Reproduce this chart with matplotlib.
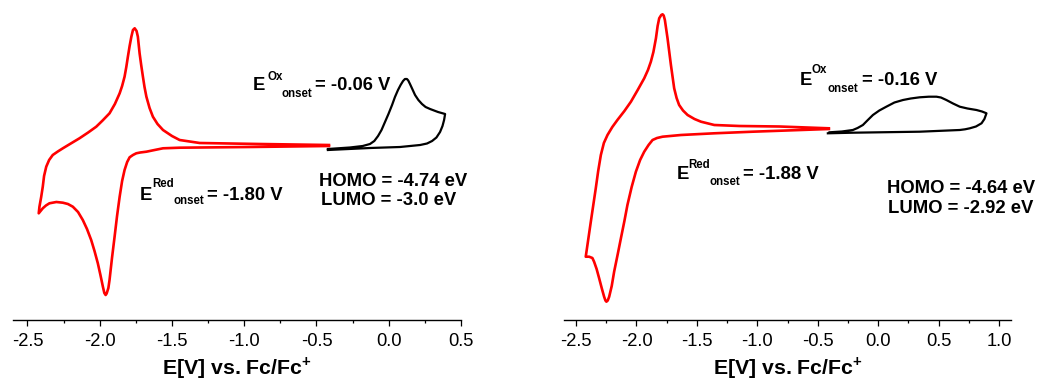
import matplotlib
matplotlib.use("Agg")
import matplotlib.pyplot as plt
from matplotlib.ticker import MultipleLocator

plt.rcParams["font.family"] = ["Liberation Sans", "DejaVu Sans"]
plt.rcParams["mathtext.fontset"] = "custom"
plt.rcParams["mathtext.rm"] = "Liberation Sans"
plt.rcParams["mathtext.bf"] = "Liberation Sans:bold"
plt.rcParams["axes.unicode_minus"] = False

# --- datos (E en V vs Fc/Fc+, corriente en unidades arbitrarias) ---
# panel izquierdo, reduccion (rojo)
red1_E = [-0.414, -0.892, -1.308, -1.447, -1.50, -1.562, -1.60, -1.632, -1.655, -1.677,
          -1.69, -1.701, -1.713, -1.724, -1.736, -1.745, -1.758, -1.770, -1.781, -1.793,
          -1.805, -1.816, -1.828, -1.845, -1.862, -1.895, -1.932, -1.98, -2.024, -2.08,
          -2.140, -2.20, -2.255, -2.29, -2.325, -2.35, -2.370, -2.385, -2.394, -2.405,
          -2.417, -2.422,
          -2.394, -2.372, -2.348, -2.30, -2.255, -2.22, -2.186, -2.15, -2.117, -2.088,
          -2.059, -2.036, -2.013, -1.995, -1.978, -1.968, -1.959, -1.952, -1.94, -1.932,
          -1.915, -1.897, -1.88, -1.862, -1.845, -1.828, -1.81, -1.793, -1.77, -1.747,
          -1.72, -1.677, -1.62, -1.562, -1.447, -0.962, -0.414]
red1_I = [17.5, 17.6, 17.7, 18.0, 18.4, 19.0, 19.6, 20.33, 21.2, 22.33,
          23.3, 24.33, 25.5, 26.67, 28.33, 28.9, 29.17, 29.0, 28.33, 27.4,
          26.33, 25.3, 24.33, 23.4, 22.67, 21.6, 20.67, 19.95, 19.33, 18.75,
          18.17, 17.65, 17.17, 16.85, 16.5, 16.0, 15.33, 14.4, 13.33, 12.3,
          11.33, 10.67,
          11.17, 11.45, 11.67, 11.8, 11.73, 11.6, 11.33, 10.8, 10.0, 9.1,
          8.0, 6.9, 5.67, 4.5, 3.33, 2.7, 2.5, 2.65, 3.2, 4.0,
          6.2, 8.33, 10.4, 12.33, 13.9, 15.0, 15.8, 16.27, 16.5, 16.67,
          16.75, 16.83, 17.0, 17.17, 17.23, 17.3, 17.4]

# panel izquierdo, oxidacion (negro)
ox1_E = [-0.421, -0.130, 0.078, 0.217, 0.265, 0.300, 0.330, 0.355, 0.372, 0.383,
         0.390, 0.341, 0.286, 0.255, 0.230, 0.205, 0.182, 0.163, 0.147, 0.135,
         0.126, 0.112, 0.099, 0.082, 0.064, 0.043, 0.023, -0.002, -0.026, -0.050,
         -0.074, -0.100, -0.130, -0.180, -0.269, -0.421]
ox1_I = [17.0, 17.2, 17.3, 17.5, 17.65, 17.9, 18.25, 18.8, 19.4, 20.0,
         20.6, 20.8, 21.1, 21.3, 21.6, 22.0, 22.5, 23.1, 23.6, 23.95,
         24.1, 24.1, 23.9, 23.5, 23.0, 22.3, 21.5, 20.6, 19.8, 19.0,
         18.4, 17.9, 17.6, 17.4, 17.25, 17.1]

# panel derecho, reduccion (rojo)
red2_E = [-0.408, -0.817, -1.148, -1.356, -1.466, -1.52, -1.577, -1.615, -1.647, -1.668,
          -1.688, -1.715, -1.743, -1.765, -1.775, -1.784, -1.795, -1.812, -1.825, -1.839,
          -1.86, -1.881, -1.905, -1.936, -1.99, -2.046, -2.10, -2.158, -2.20, -2.240,
          -2.27, -2.295, -2.317, -2.337, -2.378, -2.406, -2.420,
          -2.392, -2.365, -2.351, -2.33, -2.309, -2.288, -2.268, -2.257, -2.249, -2.238,
          -2.226, -2.205, -2.185, -2.155, -2.129, -2.10, -2.075, -2.04, -2.005, -1.97,
          -1.936, -1.90, -1.867, -1.83, -1.784, -1.632, -1.356, -1.038, -0.408]
red2_I = [19.17, 19.35, 19.4, 19.5, 19.83, 20.1, 20.5, 20.95, 21.5, 22.2,
          23.17, 25.5, 28.17, 30.0, 30.45, 30.57, 30.5, 30.17, 29.4, 28.17,
          26.8, 25.83, 25.0, 24.17, 23.0, 21.83, 20.9, 20.0, 19.3, 18.5,
          17.7, 16.5, 14.9, 13.17, 9.83, 7.5, 6.33,
          6.33, 6.2, 5.83, 5.1, 4.17, 3.2, 2.33, 1.95, 1.83, 1.95,
          2.33, 3.4, 4.83, 6.6, 8.17, 9.9, 11.5, 13.3, 14.83, 16.0,
          16.83, 17.5, 18.0, 18.2, 18.33, 18.5, 18.67, 18.83, 19.1]

# panel derecho, oxidacion (negro)
ox2_E = [-0.416, -0.209, 0.344, 0.676, 0.720, 0.759, 0.810, 0.856, 0.880, 0.897,
         0.860, 0.814, 0.740, 0.676, 0.620, 0.565, 0.520, 0.483, 0.420, 0.344,
         0.270, 0.206, 0.135, 0.068, 0.010, -0.043, -0.085, -0.126, -0.170, -0.209,
         -0.300, -0.402]
ox2_I = [18.67, 18.73, 18.83, 19.0, 19.07, 19.17, 19.35, 19.67, 20.1, 20.67,
         20.85, 21.0, 21.15, 21.33, 21.65, 22.0, 22.25, 22.33, 22.33, 22.27,
         22.15, 22.0, 21.75, 21.33, 20.95, 20.5, 20.0, 19.5, 19.2, 19.0,
         18.85, 18.77]

xlims = [(-2.6, 0.5), (-2.6, 1.1)]
onset_ox = ["-0.06", "-0.16"]
onset_red = ["-1.80", "-1.88"]
homo = ["-4.74", "-4.64"]
lumo = ["-3.0", "-2.92"]

W, H = 1038, 383
fig = plt.figure(figsize=(W / 100, H / 100), dpi=100)


def px(x, y):
    return x / W, 1 - y / H


def etiqueta_onset(pos, sup, valor):
    # pos: (E, sup, sub, texto) en pixeles de la figura
    (xe, ye), (xs, ys), (xb, yb), (xv, yv) = pos
    fig.text(*px(xe, ye), "E", fontsize=13.3, fontweight="bold", va="baseline")
    fig.text(*px(xs, ys), sup, fontsize=8.3, fontweight="bold", va="baseline")
    fig.text(*px(xb, yb), "onset", fontsize=8.3, fontweight="bold", va="baseline")
    fig.text(*px(xv, yv), f"= {valor} V", fontsize=13.3, fontweight="bold", va="baseline")


ax_rects = [
    [13 / W, 63 / H, 448 / W, 320 / H],
    [564 / W, 63 / H, 447 / W, 320 / H],
]
curvas = [(red1_E, red1_I, ox1_E, ox1_I), (red2_E, red2_I, ox2_E, ox2_I)]

for i, rect in enumerate(ax_rects):
    ax = fig.add_axes(rect)
    rE, rI, oE, oI = curvas[i]
    ax.plot(rE, rI, color="#ff0000", lw=1.9, solid_joinstyle="round")
    ax.plot(oE, oI, color="black", lw=1.6, solid_joinstyle="round")
    ax.set_xlim(*xlims[i])
    ax.set_ylim(0, 32)
    for s in ["left", "right", "top"]:
        ax.spines[s].set_visible(False)
    ax.spines["bottom"].set_linewidth(1.0)
    ax.set_yticks([])
    ax.xaxis.set_major_locator(MultipleLocator(0.5))
    ax.xaxis.set_minor_locator(MultipleLocator(0.25))
    ax.xaxis.set_major_formatter(plt.FormatStrFormatter("%.1f"))
    ax.tick_params(axis="x", which="major", direction="out", length=4, width=0.9,
                   labelsize=13.2, pad=5.2)
    ax.tick_params(axis="x", which="minor", direction="out", length=2.3, width=0.9)
    ax.set_xlabel(r"E[V] vs. Fc/Fc$^{\mathbf{+}}$", fontsize=15.3, fontweight="bold",
                  labelpad=3.5)
    ax.patch.set_alpha(0)

# anotaciones
etiqueta_onset([(253, 90), (267, 80), (281, 97), (315, 90)], "Ox", onset_ox[0])
etiqueta_onset([(140, 200), (152, 187), (173, 204), (207, 200)], "Red", onset_red[0])
etiqueta_onset([(800, 85), (812, 73), (827, 91.7), (862, 85)], "Ox", onset_ox[1])
etiqueta_onset([(677, 179), (688, 167.7), (710, 185), (743, 179)], "Red", onset_red[1])

fig.text(*px(319, 186), f"HOMO = {homo[0]} eV", fontsize=13.3, fontweight="bold", va="baseline")
fig.text(*px(321, 205), f"LUMO = {lumo[0]} eV", fontsize=13.3, fontweight="bold", va="baseline")
fig.text(*px(887, 193), f"HOMO = {homo[1]} eV", fontsize=13.3, fontweight="bold", va="baseline")
fig.text(*px(888, 213), f"LUMO = {lumo[1]} eV", fontsize=13.3, fontweight="bold", va="baseline")

fig.savefig("out.png", dpi=100, facecolor="white")
